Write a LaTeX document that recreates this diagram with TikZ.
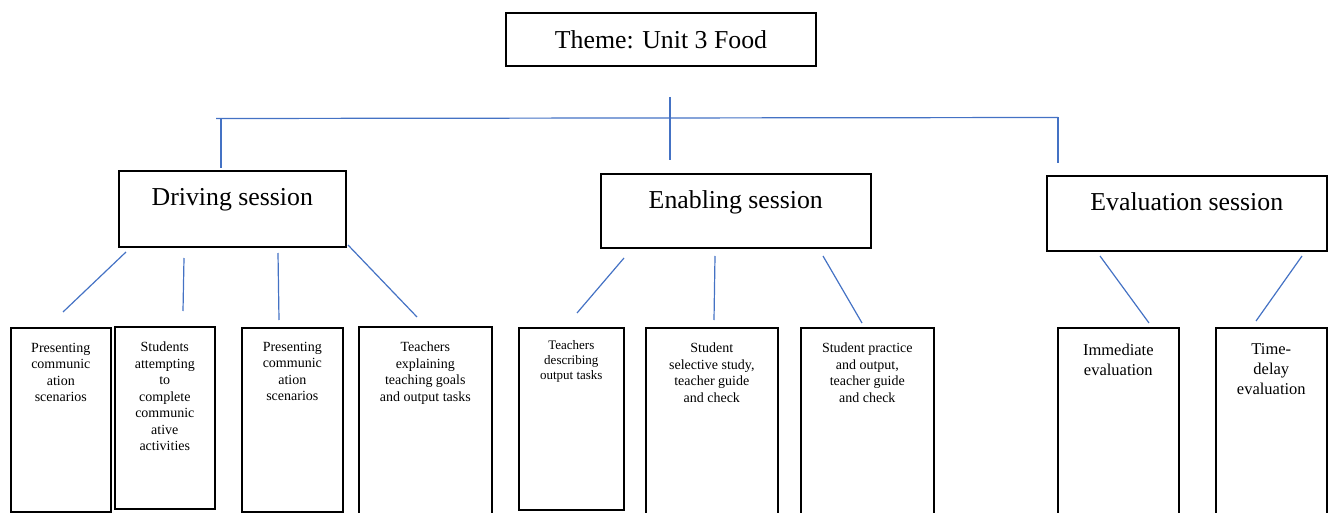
\documentclass[tikz,border=0pt]{standalone}
\usepackage{fontspec}
\setmainfont{Liberation Serif}
\usepackage{xcolor}
\definecolor{linkblue}{RGB}{68, 114, 196}

\tikzset{
  box/.style={draw=black, line width=1.6pt, fill=white, inner sep=0pt, anchor=north west},
  themebox/.style={box, anchor=center, minimum width=310pt, minimum height=53pt, font=\fontsize{25.8}{30}\selectfont},
  sessionbox/.style={box, font=\fontsize{25.8}{30}\selectfont},
  taskbox/.style={box, font=\fontsize{14}{16.5}\selectfont},
  evalbox/.style={box, font=\fontsize{16.5}{20}\selectfont},
  link/.style={draw=linkblue, line width=1.2pt},
}

\begin{document}
\begin{tikzpicture}[x=1pt, y=-1pt]
\useasboundingbox (0,0) rectangle (1328,513);

% theme
\node[themebox] (theme) at (661,39.5) {Theme: Unit 3 Food};

% sessions
\node[sessionbox] (drive) at (118,170) {
\begin{minipage}[t][76pt][t]{227pt}
\vspace*{17.5pt}
\centering
Driving session
\end{minipage}
};
\node[sessionbox] (enable) at (600,173) {
\begin{minipage}[t][74pt][t]{270pt}
\vspace*{16.5pt}
\centering
Enabling session
\end{minipage}
};
\node[sessionbox] (evalsess) at (1046,175) {
\begin{minipage}[t][75pt][t]{280pt}
\vspace*{16.5pt}
\centering
Evaluation session
\end{minipage}
};

% driving tasks
\node[taskbox] (d1) at (10,327) {
\begin{minipage}[t][184pt][t]{100pt}
\vspace*{15pt}
\centering
Presenting\\ communic\\ ation\\ scenarios
\end{minipage}
};
\node[taskbox] (d2) at (114,326) {
\begin{minipage}[t][182pt][t]{100pt}
\vspace*{15pt}
\centering
Students\\ attempting\\ to\\ complete\\ communic\\ ative\\ activities
\end{minipage}
};
\node[taskbox] (d3) at (241,327) {
\begin{minipage}[t][184pt][t]{101pt}
\vspace*{14pt}
\centering
Presenting\\ communic\\ ation\\ scenarios
\end{minipage}
};
\node[taskbox] (d4) at (358,326) {
\begin{minipage}[t][192pt][t]{133pt}
\vspace*{15pt}
\centering
Teachers\\ explaining\\ teaching goals\\ and output tasks
\end{minipage}
};

% enabling tasks
\node[taskbox, font=\fontsize{13}{15}\selectfont] (e1) at (518,327) {
\begin{minipage}[t][182pt][t]{105pt}
\vspace*{13pt}
\centering
Teachers\\ describing\\ output tasks
\end{minipage}
};
\node[taskbox] (e2) at (645,327) {
\begin{minipage}[t][192pt][t]{132pt}
\vspace*{15pt}
\centering
Student\\ selective study,\\ teacher guide\\ and check
\end{minipage}
};
\node[taskbox] (e3) at (800,327) {
\begin{minipage}[t][192pt][t]{133pt}
\vspace*{15pt}
\centering
Student practice\\ and output,\\ teacher guide\\ and check
\end{minipage}
};

% evaluation tasks
\node[evalbox] (v1) at (1057,327) {
\begin{minipage}[t][192pt][t]{121pt}
\vspace*{16pt}
\centering
Immediate\\ evaluation
\end{minipage}
};
\node[evalbox] (v2) at (1215,327) {
\begin{minipage}[t][192pt][t]{111pt}
\vspace*{16pt}
\centering
Time-\\ delay\\ evaluation
\end{minipage}
};

% connector ends
\coordinate (trunkT) at (670,97);
\coordinate (trunkB) at (670,160);
\coordinate (barL) at (216,118.5);
\coordinate (barR) at (1058,117.5);
\coordinate (dropL) at (221,118.5);
\coordinate (dropLb) at (221,168);
\coordinate (dropRb) at (1058,163);

\coordinate (dl1) at (126,252);  \coordinate (dl1b) at (63,312);
\coordinate (dl2) at (184,258);  \coordinate (dl2b) at (183,311);
\coordinate (dl3) at (278,253);  \coordinate (dl3b) at (279,320);
\coordinate (dl4) at (348,245);  \coordinate (dl4b) at (417,317);
\coordinate (el1) at (624,258);  \coordinate (el1b) at (577,313);
\coordinate (el2) at (715,256);  \coordinate (el2b) at (714,320);
\coordinate (el3) at (823,256);  \coordinate (el3b) at (862,323);
\coordinate (vl1) at (1100,256); \coordinate (vl1b) at (1149,323);
\coordinate (vl2) at (1302,256); \coordinate (vl2b) at (1256,321);

% links
\draw[link] (trunkT) -- (trunkB);
\draw[link] (barL) -- (barR);
\draw[link] (dropL) -- (dropLb);
\draw[link] (barR) -- (dropRb);
\foreach \a in {dl1,dl2,dl3,dl4,el1,el2,el3,vl1,vl2}
  \draw[link] (\a) -- (\a b);
\end{tikzpicture}
\end{document}
